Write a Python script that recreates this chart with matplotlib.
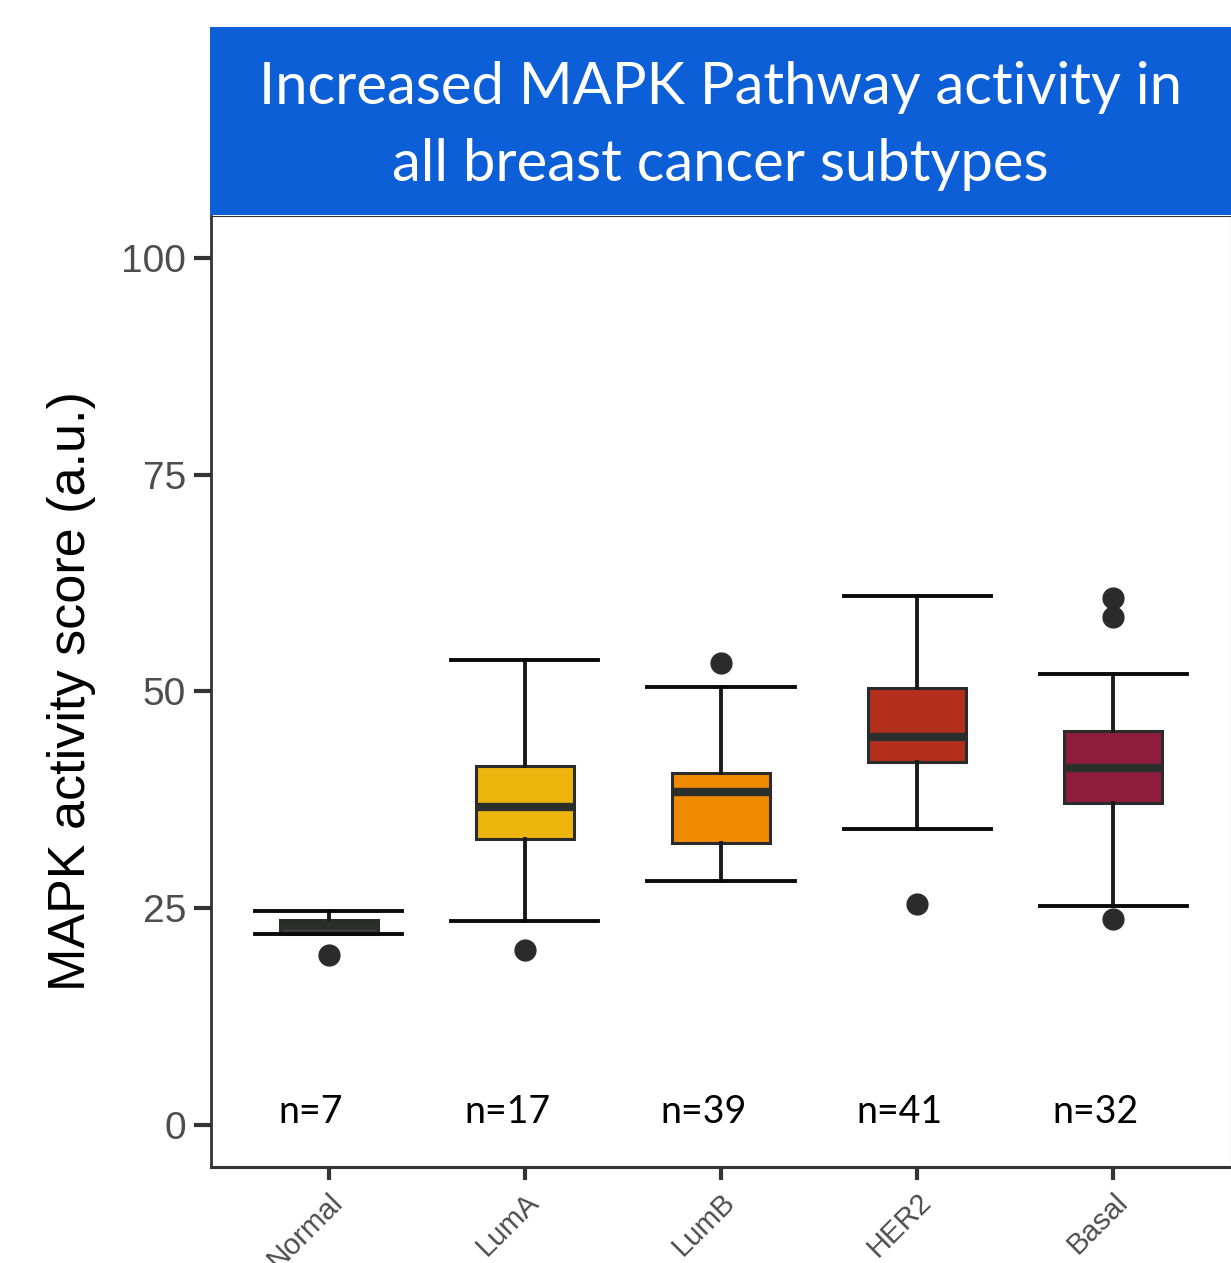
"""MAPK pathway activity score by breast cancer subtype (boxplot)."""
import matplotlib
matplotlib.use("Agg")
import matplotlib.pyplot as plt

# data
groups = ["Normal", "LumA", "LumB", "HER2", "Basal"]
n_counts = [7, 17, 39, 41, 32]
q1 = [22.0, 33.0, 32.5, 41.9, 37.1]
med = [23.1, 36.7, 38.4, 44.8, 41.2]
q3 = [23.6, 41.4, 40.6, 50.4, 45.4]
whislo = [22.0, 23.5, 28.1, 34.1, 25.3]
whishi = [24.7, 53.6, 50.5, 61.0, 52.0]
fliers = [[19.6], [20.2], [53.3], [25.5], [60.8, 58.6, 23.8]]
box_colors = ["#3c3c3c", "#efb50f", "#ef8a00", "#b3301f", "#8e1c3c"]

fig = plt.figure(figsize=(12.31, 12.63), dpi=100)

# title banner
banner = fig.add_axes([210 / 1231, 1 - 215 / 1263, 1 - 210 / 1231, 188 / 1263])
banner.set_facecolor("#0d5fd8")
banner.set_xticks([])
banner.set_yticks([])
for s in banner.spines.values():
    s.set_visible(False)
banner.text(0.5, 0.473, "Increased MAPK Pathway activity in\nall breast cancer subtypes",
            transform=banner.transAxes, ha="center", va="center", color="white",
            fontsize=41.8, family="Lato", linespacing=1.55)

ax = fig.add_axes([211 / 1231, 1 - 1167 / 1263, 1020 / 1231, 951 / 1263])

stats = []
for i in range(len(groups)):
    stats.append(dict(label=groups[i], q1=q1[i], med=med[i], q3=q3[i],
                      whislo=whislo[i], whishi=whishi[i], fliers=fliers[i]))

bp = ax.bxp(stats, positions=range(1, len(groups) + 1), widths=0.5,
            capwidths=0.75, patch_artist=True,
            boxprops=dict(edgecolor="#2b2b2b", linewidth=2.2),
            medianprops=dict(color="#2b2f2b", linewidth=6, solid_capstyle="butt"),
            whiskerprops=dict(color="#1a1a1a", linewidth=2.8),
            capprops=dict(color="#0a0a0a", linewidth=2.8),
            flierprops=dict(marker="o", markersize=15, markerfacecolor="#2b2b2b",
                            markeredgecolor="#2b2b2b"))
for patch, c in zip(bp["boxes"], box_colors):
    patch.set_facecolor(c)

# sample sizes, set slightly left of each box as in the original
for i, n in enumerate(n_counts):
    ax.text(i + 1 - 0.09, 1.5, f"n={n}", ha="center", va="center", fontsize=27,
            family="Lato", color="black")

ax.set_xlim(0.4, len(groups) + 0.6)
ax.set_ylim(-4.85, 104.85)
ax.set_yticks([0, 25, 50, 75, 100])
ax.set_yticklabels(["0", "25", "50", "75", "100"], family="Liberation Sans",
                   fontsize=28, color="#4d4d4d")
ax.set_xticks(range(1, len(groups) + 1))
ax.set_xticklabels(groups, rotation=45, ha="right", va="top", rotation_mode="anchor",
                   family="Liberation Sans", fontsize=21, color="#4d4d4d")
ax.tick_params(axis="y", length=12, width=3, color="#333333", pad=6)
ax.tick_params(axis="x", length=9, width=3, color="#333333", pad=6)
ax.set_ylabel("MAPK activity score (a.u.)", family="Liberation Sans", fontsize=37.5,
              color="black", labelpad=18)

ax.spines["left"].set_linewidth(2)
ax.spines["bottom"].set_linewidth(2.2)
ax.spines["left"].set_color("#333333")
ax.spines["bottom"].set_color("#333333")
ax.spines["top"].set_color("#333333")
ax.spines["right"].set_color("#cccccc")
ax.spines["right"].set_linewidth(1)

fig.savefig("out.png", dpi=100)
